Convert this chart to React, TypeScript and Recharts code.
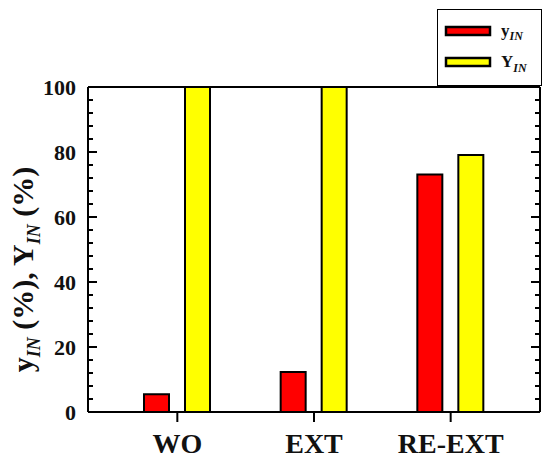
import React from "react";

//recharts
import {
  BarChart,
  Bar,
  XAxis,
  YAxis,
  Legend,
  ReferenceLine,
} from "recharts";

//data
const categories = ["WO", "EXT", "RE-EXT"];
const yIn = [5.5, 12.3, 73.1];
const YIn = [100, 100, 79.1];
const yTicks = [
  0, 4, 8, 12, 16, 20, 24, 28, 32, 36, 40, 44, 48, 52, 56, 60, 64, 68, 72, 76,
  80, 84, 88, 92, 96, 100,
];
const majorTicks = [0, 20, 40, 60, 80, 100];

const data = categories.map((name, i) => ({ name, yIn: yIn[i], YIn: YIn[i] }));

//layout
const W = 550;
const H = 464;
const MARGIN = { top: 87, right: 5, bottom: 7, left: 28 };
const Y_W = 60;
const R_W = 5;
const PLOT_W = W - MARGIN.left - MARGIN.right - Y_W - R_W;

const FONT = "'Liberation Serif', 'Times New Roman', serif";
const INK = "#111";

//x is the axis line (tickSize and tickMargin are 0)
//draws the inward ticks on both sides of the frame
const leftTick = (props: any) => {
  const x = Number(props.x);
  const y = Number(props.y);
  const v = props.payload ? props.payload.value : 0;
  const major = majorTicks.includes(v);
  const len = major ? 9 : 5;
  return (
    <g key={`l-${v}`}>
      <rect x={x} y={y - 1} width={len} height={2} fill="#000" />
      <rect x={x + PLOT_W - len} y={y - 1} width={len} height={2} fill="#000" />
      {major && (
        <text
          x={x - 12}
          y={y}
          dy="0.35em"
          textAnchor="end"
          fontFamily={FONT}
          fontWeight="bold"
          fontSize={22}
          fill={INK}
        >
          {v}
        </text>
      )}
    </g>
  );
};

const YLabel = (props: any) => {
  const vb = props.viewBox || { x: 0, y: 0, width: 0, height: 0 };
  const cx = vb.x - 6;
  const cy = vb.y + vb.height / 2 + 20;
  return (
    <text
      x={cx}
      y={cy}
      transform={`rotate(-90 ${cx} ${cy})`}
      textAnchor="middle"
      dy="0.35em"
      fontFamily={FONT}
      fontWeight="bold"
      fontSize={30}
      fill={INK}
    >
      <tspan>y</tspan>
      <tspan fontSize={18} fontStyle="italic" dy={7}>IN</tspan>
      <tspan dy={-7}> (%), Y</tspan>
      <tspan fontSize={18} fontStyle="italic" dy={7}>IN</tspan>
      <tspan dy={-7}> (%)</tspan>
    </text>
  );
};

const LegendBox = () => (
  <div
    style={{
      width: 105,
      height: 77,
      boxSizing: "border-box",
      border: "1px solid #000",
      background: "#fff",
    }}
  >
    <svg width={103} height={75}>
      <rect x={8} y={17} width={44} height={8} fill="#ff0000" stroke="#000" strokeWidth={2.5} />
      <rect x={8} y={48} width={44} height={8} fill="#ffff00" stroke="#000" strokeWidth={2.5} />
      <text x={63} y={26} fontFamily={FONT} fontWeight="bold" fontSize={17} fill={INK}>
        y
        <tspan fontSize={12} fontStyle="italic" dy={4}>IN</tspan>
      </text>
      <text x={63} y={57} fontFamily={FONT} fontWeight="bold" fontSize={17} fill={INK}>
        Y
        <tspan fontSize={12} fontStyle="italic" dy={5}>IN</tspan>
      </text>
    </svg>
  </div>
);

const App = () => {
  return (
    <div style={{ marginLeft: -8, marginTop: -8 }}>
      <BarChart
        width={W}
        height={H}
        data={data}
        margin={MARGIN}
        barSize={25}
        barGap={16}
      >
        <XAxis
          dataKey="name"
          height={45}
          padding={{ left: 21, right: 21 }}
          tickSize={10}
          tickMargin={11}
          axisLine={{ stroke: "#000", strokeWidth: 2 }}
          tickLine={{ stroke: "#000", strokeWidth: 2 }}
          tick={{ fontFamily: FONT, fontWeight: "bold", fontSize: 28, fill: INK }}
        />
        <YAxis
          yAxisId="l"
          width={Y_W}
          domain={[0, 100]}
          ticks={yTicks}
          interval={0}
          tickSize={0}
          tickMargin={0}
          tickLine={false}
          axisLine={{ stroke: "#000", strokeWidth: 2 }}
          tick={leftTick}
          label={<YLabel />}
        />
        <YAxis
          yAxisId="r"
          orientation="right"
          width={R_W}
          domain={[0, 100]}
          tick={false}
          tickLine={false}
          axisLine={{ stroke: "#000", strokeWidth: 2 }}
        />
        <ReferenceLine yAxisId="l" y={100} stroke="#000" strokeWidth={2} />
        <Bar
          yAxisId="l"
          dataKey="yIn"
          fill="#ff0000"
          stroke="#000"
          strokeWidth={2}
          isAnimationActive={false}
        />
        <Bar
          yAxisId="l"
          dataKey="YIn"
          fill="#ffff00"
          stroke="#000"
          strokeWidth={2}
          isAnimationActive={false}
        />
        <Legend
          layout="horizontal"
          verticalAlign="middle"
          align="center"
          content={<LegendBox />}
          wrapperStyle={{ left: 437, top: 9, width: 105, height: 77 }}
        />
      </BarChart>
    </div>
  );
};

export default App;
